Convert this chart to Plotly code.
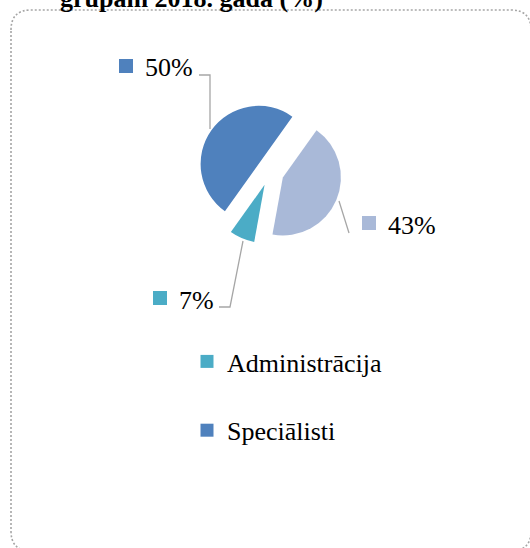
import plotly.graph_objects as go

# ---- data ----
categories = ["Tehniskie darbinieki", "Administrācija", "Speciālisti"]
values = [43, 7, 50]
colors = ["#A9B9D8", "#4BACC6", "#4F81BD"]
legend_items = ["Administrācija", "Speciālisti"]
legend_colors = ["#4BACC6", "#4F81BD"]
title_text = "grupām 2018. gadā (%)"

W, H = 530, 548


def px(x):
    return x / W


def py(y):
    return 1 - y / H


SERIF = "Liberation Serif, Times New Roman, serif"
GRAY = "#A6A6A6"

fig = go.Figure()
fig.add_trace(go.Pie(
    labels=categories, values=values, sort=False, direction="clockwise",
    rotation=35.5, pull=[0.24] * len(values),
    marker=dict(colors=colors, line=dict(width=0)),
    textinfo="none", showlegend=False, hoverinfo="label+percent",
    domain=dict(x=[px(198), px(342)], y=[py(244), py(100)]),
))

for i, (name, col) in enumerate(zip(legend_items, legend_colors)):
    fig.add_trace(go.Scatter(
        x=[None], y=[None], mode="markers", name=name,
        legendgroup=f"g{i}",
        marker=dict(symbol="square", size=13, color=col),
    ))

total = sum(values)
# label layout: (square left x, square center y, text left x, text center y)
label_pos = {
    "Speciālisti": (119, 66, 144, 67),
    "Tehniskie darbinieki": (362, 223, 387, 225.5),
    "Administrācija": (153, 298, 178, 300),
}
shapes = []
annotations = []
for cat, v, col in zip(categories, values, colors):
    sx, sy, tx, ty = label_pos[cat]
    shapes.append(dict(type="rect", xref="paper", yref="paper",
                       x0=px(sx), x1=px(sx + 14), y0=py(sy + 7), y1=py(sy - 7),
                       fillcolor=col, line=dict(width=0)))
    annotations.append(dict(text=f"{round(v / total * 100)}%", xref="paper", yref="paper",
                            x=px(tx), y=py(ty), xanchor="left", yanchor="middle",
                            showarrow=False, borderpad=0,
                            font=dict(family=SERIF, size=26, color="#000000")))

# leader lines
leaders = [
    [(199, 75), (210, 75), (210, 129)],
    [(339, 201), (349, 233)],
    [(243, 241), (230, 307), (219, 307)],
]
for pts in leaders:
    path = "M " + " L ".join(f"{px(x)},{py(y)}" for x, y in pts)
    shapes.append(dict(type="path", xref="paper", yref="paper", path=path,
                       line=dict(color=GRAY, width=1.3)))

# dotted rounded border
L, T, R, B, r = 11, 10, 531, 551, 20
pts = (f"M {px(L)},{py(T + r)} Q {px(L)},{py(T)} {px(L + r)},{py(T)} "
       f"L {px(R - r)},{py(T)} Q {px(R)},{py(T)} {px(R)},{py(T + r)} "
       f"L {px(R)},{py(B - r)} Q {px(R)},{py(B)} {px(R - r)},{py(B)} "
       f"L {px(L + r)},{py(B)} Q {px(L)},{py(B)} {px(L)},{py(B - r)} Z")
shapes.append(dict(type="path", xref="paper", yref="paper", path=pts,
                   line=dict(color=GRAY, width=1.6, dash="2px,2px"), layer="below"))

annotations.append(dict(text=f"<b>{title_text}</b>", xref="paper", yref="paper",
                        x=px(59), y=py(-1), xanchor="left", yanchor="middle",
                        showarrow=False, borderpad=0,
                        font=dict(family=SERIF, size=26, color="#000000")))

fig.update_layout(
    width=W, height=H,
    margin=dict(l=0, r=0, t=0, b=0),
    paper_bgcolor="white", plot_bgcolor="white",
    xaxis=dict(visible=False), yaxis=dict(visible=False),
    shapes=shapes, annotations=annotations,
    showlegend=True,
    legend=dict(x=px(187), y=py(338), xanchor="left", yanchor="top",
                traceorder="grouped", tracegroupgap=32,
                font=dict(family=SERIF, size=26, color="#000000"),
                bgcolor="rgba(0,0,0,0)", itemclick=False),
)

fig.write_html("out.html", config={"displayModeBar": False},
               post_script="document.body.style.margin='0px';")
